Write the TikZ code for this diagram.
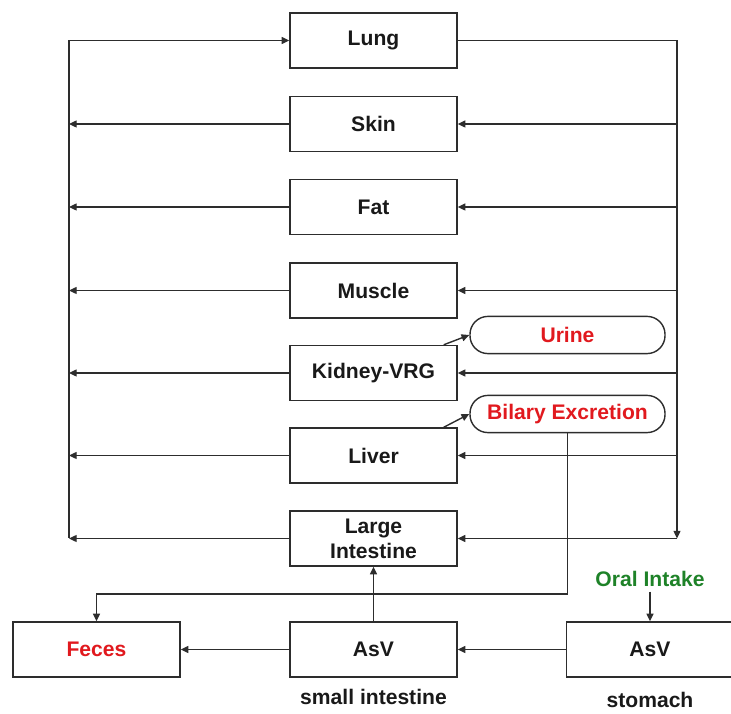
\documentclass[tikz,border=0pt]{standalone}
\usepackage{fontspec}
\setmainfont{Liberation Sans}
\usepackage{xcolor}
\usepackage{tikz}
\usetikzlibrary{arrows.meta,positioning,calc}
\definecolor{excred}  {RGB}{225,25,30}
\definecolor{oralgreen}{RGB}{30,130,40}
\definecolor{linegray}{RGB}{45,45,45}

\begin{document}
\begin{tikzpicture}[
  x=0.025cm, y=-0.025cm,
  font=\fontsize{15}{17.7}\selectfont\bfseries, >={Triangle[length=5.5pt,width=5pt]},
  organ/.style={draw=linegray, line width=1pt, fill=white, align=center,
    minimum width=4.175cm, minimum height=1.375cm, inner sep=0pt, text=black!90},
  pill/.style={draw=linegray, line width=1pt, rounded corners=0.45cm,
    minimum width=4.875cm, minimum height=0.93cm, inner sep=0pt, text=excred},
  wire/.style={draw=linegray, line width=1pt},
  flow/.style={wire, ->},
]
\useasboundingbox (0,0) rectangle (731,714);

% Organ column
\foreach \n/\lbl/\y in {lung/Lung/40.5, skin/Skin/124, fat/Fat/207,
    muscle/Muscle/290.5, kidney/Kidney-VRG/373, liver/Liver/455.5,
    large/{Large\\Intestine}/538.5}{
  \node[organ] (\n) at (373.5,\y) {\lbl};
}

% Excretion outputs
\node[pill] (urine) at (567.5,335) {Urine};
\node[pill] (bile)  at (567.5,414) {Bilary Excretion};

% GI tract
\node[organ] (feces) at (96.5,649.5)  {\color{excred}Feces};
\node[organ] (asvsi) at (373.5,649.5) {AsV};
\node[organ] (asvst) at (650,649.5)   {AsV};
\node[text=black!90] (silbl) at (373.5,697) {small intestine};
\node[text=black!90] (stlbl) at (650,700)   {stomach};
\node[text=oralgreen] (oral) at (650,579)   {Oral Intake};

% Venous (left) and arterial (right) lines
\coordinate (ven) at (69,0);
\coordinate (art) at (677,0);
\coordinate (gut) at (0,594);

\draw[wire] (lung.west -| ven) -- (large.west -| ven);
\draw[flow] (lung.west -| ven) -- (lung.west);
\draw[flow] (lung.east) -- (lung.east -| art) -- (large.east -| art);

\foreach \n in {skin,fat,muscle,kidney,liver,large}{
  \draw[flow] (\n.west) -- (\n.west -| ven);
  \draw[flow] (\n.east -| art) -- (\n.east);
}

% Kidney / liver clearance
\draw[flow] ([xshift=-0.35cm]kidney.north east) -- (urine.west);
\draw[flow] ([xshift=-0.35cm]liver.north east) -- (bile.west);

% Bile to feces
\draw[flow] (bile.south) -- (bile.south |- gut) -- (feces.north |- gut) -- (feces.north);

% Oral absorption path
\draw[flow] (oral.south) -- (asvst.north);
\draw[flow] (asvst.west) -- (asvsi.east);
\draw[flow] (asvsi.west) -- (feces.east);
\draw[flow] (asvsi.north) -- (large.south);

\end{tikzpicture}
\end{document}
